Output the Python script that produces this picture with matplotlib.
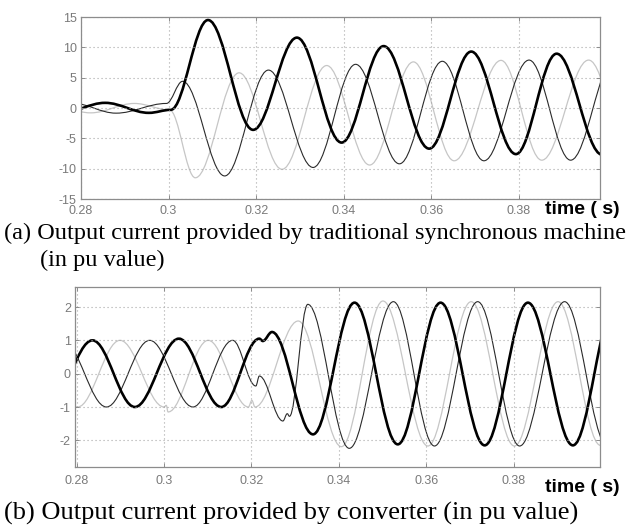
import matplotlib
matplotlib.use('Agg')
import matplotlib.pyplot as plt
from matplotlib.path import Path
from matplotlib.patches import PathPatch

# ---- data (extrema of each phase current) ----
# (a) synchronous machine, pu
a_bold_t = [0.2755, 0.2855, 0.2955, 0.3005, 0.3090, 0.3193, 0.3293, 0.3395, 0.3491,
            0.3595, 0.3691, 0.3793, 0.3886, 0.3990]
a_bold_v = [-0.8, 0.85, -0.8, -0.3, 14.5, -3.6, 11.6, -5.7, 10.2, -6.7, 9.3, -7.6, 8.95, -7.7]

a_dark_t = [0.2780, 0.2880, 0.2995, 0.3032, 0.3128, 0.3228, 0.3330, 0.3427, 0.3527,
            0.3625, 0.3720, 0.3823, 0.3918, 0.4018]
a_dark_v = [0.8, -0.85, 0.75, 4.4, -11.2, 6.25, -9.8, 7.2, -9.2, 7.7, -8.7, 7.9, -8.6, 8.0]

a_gray_t = [0.2722, 0.2822, 0.2922, 0.3002, 0.3061, 0.3161, 0.3259, 0.3361, 0.3459,
            0.3559, 0.3652, 0.3759, 0.3852, 0.3959, 0.4059]
a_gray_v = [0.75, -0.8, 0.75, -0.3, -11.5, 5.8, -10.1, 7.0, -9.4, 7.6, -8.7, 7.85, -8.6, 7.9, -8.6]

# (b) converter, pu
b_bold_t = [0.2736, 0.2836, 0.2933, 0.3034, 0.3131, 0.3218, 0.3226, 0.3247, 0.3341,
            0.3436, 0.3535, 0.3633, 0.3734, 0.3833, 0.3936, 0.4034]
b_bold_v = [-1.0, 1.0, -1.0, 1.05, -1.0, 1.05, 0.98, 1.25, -1.82, 2.13, -2.12, 2.13,
            -2.15, 2.13, -2.15, 2.13]

b_dark_t = [0.2768, 0.2868, 0.2967, 0.3066, 0.3157, 0.3210, 0.3218, 0.3272, 0.3282,
            0.3287, 0.3329, 0.3424, 0.3525, 0.3619, 0.3718, 0.3814, 0.3917, 0.4015]
b_dark_v = [1.0, -1.0, 1.0, -1.0, 1.0, -0.37, -0.07, -1.42, -1.2, -1.28, 2.08, -2.24,
            2.16, -2.17, 2.16, -2.17, 2.16, -2.17]

b_gray_t = [0.2704, 0.2802, 0.2899, 0.3000, 0.3005, 0.3009, 0.3101, 0.3193, 0.3201,
            0.3208, 0.3307, 0.3406, 0.3501, 0.3604, 0.3703, 0.3802, 0.3902, 0.3999, 0.4098]
b_gray_v = [1.0, -1.0, 1.0, -1.0, -0.95, -1.15, 1.0, -1.0, -0.8, -1.0, 1.58, -2.19,
            2.18, -2.17, 2.16, -2.17, 2.16, -2.15, 2.16]

x_ticks = [0.28, 0.30, 0.32, 0.34, 0.36, 0.38]
x_labels = ['0.28', '0.3', '0.32', '0.34', '0.36', '0.38']
a_yticks = [-15, -10, -5, 0, 5, 10, 15]
a_ylabels = ['-15', '-10', '-5', '0', '5', '10', '15']
b_yticks = [-2, -1, 0, 1, 2]
b_ylabels = ['-2', '-1', '0', '1', '2']

W, H = 633, 527
fig = plt.figure(figsize=(W / 100, H / 100), dpi=100)


def px_axes(l, t, r, b):
    return fig.add_axes([l / W, 1 - b / H, (r - l) / W, (b - t) / H])


def wave(ax, ts, vs, color, lw):
    # smooth half-cosine-like Bezier segments between successive extrema
    k = 0.3634
    verts = [(ts[0], vs[0])]
    codes = [Path.MOVETO]
    for i in range(len(ts) - 1):
        d = ts[i + 1] - ts[i]
        verts += [(ts[i] + k * d, vs[i]), (ts[i + 1] - k * d, vs[i + 1]), (ts[i + 1], vs[i + 1])]
        codes += [Path.CURVE4] * 3
    ax.add_patch(PathPatch(Path(verts, codes), fill=False, edgecolor=color,
                           linewidth=lw, joinstyle='round', capstyle='round'))


def style(ax, yticks, ylabels, xpad):
    ax.set_xticks(x_ticks)
    ax.set_xticklabels(x_labels)
    ax.set_yticks(yticks)
    ax.set_yticklabels(ylabels)
    ax.grid(True, color='#a8a8a8', linestyle=(0, (1, 2.6)), linewidth=0.8)
    ax.tick_params(direction='in', length=3, color='#8c8c8c', labelcolor='#7a7a7a',
                   labelsize=9, top=True, right=True, width=0.7)
    ax.tick_params(axis='x', pad=xpad)
    ax.tick_params(axis='y', pad=3)
    for lab in ax.get_xticklabels() + ax.get_yticklabels():
        lab.set_family('Liberation Sans')
    for s in ax.spines.values():
        s.set_color('#8c8c8c')
        s.set_linewidth(0.9)


ax1 = px_axes(81, 17, 600, 199)
ax1.set_xlim(0.28, 0.3985)
ax1.set_ylim(-15, 15)
wave(ax1, a_gray_t, a_gray_v, '#c6c6c6', 0.9)
wave(ax1, a_dark_t, a_dark_v, '#2a2a2a', 0.8)
wave(ax1, a_bold_t, a_bold_v, '#000000', 1.9)
style(ax1, a_yticks, a_ylabels, 4.5)

ax2 = px_axes(75, 287, 600, 467)
ax2.set_xlim(0.2796, 0.3998)
ax2.set_ylim(-2.8, 2.6)
wave(ax2, b_gray_t, b_gray_v, '#c6c6c6', 0.9)
wave(ax2, b_dark_t, b_dark_v, '#2a2a2a', 0.8)
wave(ax2, b_bold_t, b_bold_v, '#000000', 1.9)
style(ax2, b_yticks, b_ylabels, 6)

# axis unit labels
fig.text(545 / W, 1 - 210 / H, 'time ( s)', fontsize=14, fontweight='bold',
         family='Liberation Sans', ha='left', va='center')
fig.text(545 / W, 1 - 488 / H, 'time ( s)', fontsize=14, fontweight='bold',
         family='Liberation Sans', ha='left', va='center')

# captions
fig.text(4 / W, 1 - 233 / H, '(a) Output current provided by traditional synchronous machine',
         family='Liberation Serif', fontsize=17.5, ha='left', va='center')
fig.text(40 / W, 1 - 260 / H, '(in pu value)',
         family='Liberation Serif', fontsize=17.5, ha='left', va='center')
fig.text(4 / W, 1 - 513 / H, '(b) Output current provided by converter (in pu value)',
         family='Liberation Serif', fontsize=19, ha='left', va='center')

fig.savefig('out.png', dpi=100, facecolor='white')
